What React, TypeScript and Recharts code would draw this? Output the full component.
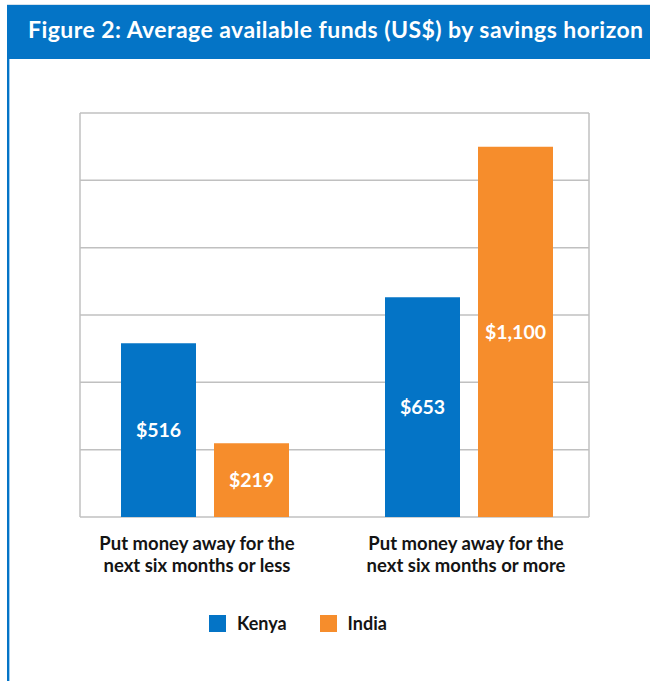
import React from "react";
import { BarChart, Bar, XAxis, YAxis, CartesianGrid, LabelList } from "recharts";

const categories = [
  "Put money away for the\nnext six months or less",
  "Put money away for the\nnext six months or more",
];
const kenyaValues = [516, 653];
const indiaValues = [219, 1100];
const yTicks = [0, 200, 400, 600, 800, 1000, 1200];
const seriesKeys = ["Kenya", "India"];
const seriesColors = ["#0474C6", "#F68D2C"];
const titleText = "Figure 2: Average available funds (US$) by savings horizon";

const data = categories.map((c, i) => ({
  category: c,
  Kenya: kenyaValues[i],
  India: indiaValues[i],
}));

const FONT = "Lato, 'Open Sans', sans-serif";
const GRID = "#c0c0c0";

function CategoryTick(props: any) {
  const { x, y, payload, index } = props;
  const cx = x + (index === 0 ? -8 : -3);
  const lines = String(payload.value).split("\n");
  return (
    <text x={cx} y={y} textAnchor="middle" fontFamily={FONT} fontWeight={700} fontSize={18.5} fill="#141414">
      {lines.map((l, i) => (
        <tspan key={i} x={cx} dy={i === 0 ? 33 : 22}>
          {l}
        </tspan>
      ))}
    </text>
  );
}

const fmt = (v: any) => "$" + Number(v).toLocaleString("en-US");

export default function App() {
  return (
    <div style={{ position: "absolute", left: 0, top: 0, width: 650, height: 681, background: "#fff", overflow: "hidden" }}>
      <div style={{ position: "absolute", left: 7, top: 4, width: 643, height: 1, background: "#d5e2ec" }} />
      <div style={{ position: "absolute", left: 7, top: 5, width: 643, height: 54, background: "#0474C6" }} />
      <div
        style={{
          position: "absolute",
          left: 28,
          top: 15,
          whiteSpace: "nowrap",
          color: "#fff",
          fontFamily: FONT,
          fontWeight: 700,
          fontSize: 23,
          letterSpacing: 0.45,
          lineHeight: "normal",
        }}
      >
        {titleText}
      </div>
      <div style={{ position: "absolute", left: 7, top: 59, width: 2, height: 622, background: "#0474C6" }} />
      <div style={{ position: "absolute", left: 9, top: 59, width: 1, height: 622, background: "#9fcdf0" }} />
      <div style={{ position: "absolute", left: 0, top: 0 }}>
        <BarChart
          width={650}
          height={681}
          data={data}
          margin={{ top: 113, right: 49, bottom: 104, left: 73 }}
          barSize={75}
          barGap={18}
        >
          <CartesianGrid
            stroke={GRID}
            strokeWidth={1.5}
            horizontal={(p: any) => (
              <line
                key={`h-${p.index}`}
                x1={p.x1 + 7}
                x2={p.x2 - 12}
                y1={p.y1}
                y2={p.y2}
                stroke={GRID}
                strokeWidth={1.5}
              />
            )}
            verticalCoordinatesGenerator={({ offset }: any) => [offset.left + 7, offset.left + offset.width - 12]}
          />
          <XAxis
            dataKey="category"
            height={60}
            axisLine={false}
            tickLine={false}
            tickSize={0}
            tickMargin={0}
            interval={0}
            tick={<CategoryTick />}
          />
          <YAxis hide domain={[0, 1200]} ticks={yTicks} />
          {seriesKeys.map((k, i) => (
            <Bar key={k} dataKey={k} fill={seriesColors[i]} isAnimationActive={false}>
              <LabelList
                dataKey={k}
                position="center"
                formatter={fmt}
                fill="#fff"
                fontFamily={FONT}
                fontWeight={700}
                fontSize={19.5}
              />
            </Bar>
          ))}
        </BarChart>
      </div>
      <div
        style={{
          position: "absolute",
          left: 209,
          top: 612,
          display: "flex",
          alignItems: "center",
          fontFamily: FONT,
          fontWeight: 700,
          fontSize: 18,
          color: "#141414",
        }}
      >
        {seriesKeys.map((k, i) => (
          <div key={k} style={{ display: "flex", alignItems: "center", marginRight: 33 }}>
            <div style={{ width: 17, height: 17, background: seriesColors[i], marginRight: 11 }} />
            <span>{k}</span>
          </div>
        ))}
      </div>
    </div>
  );
}
